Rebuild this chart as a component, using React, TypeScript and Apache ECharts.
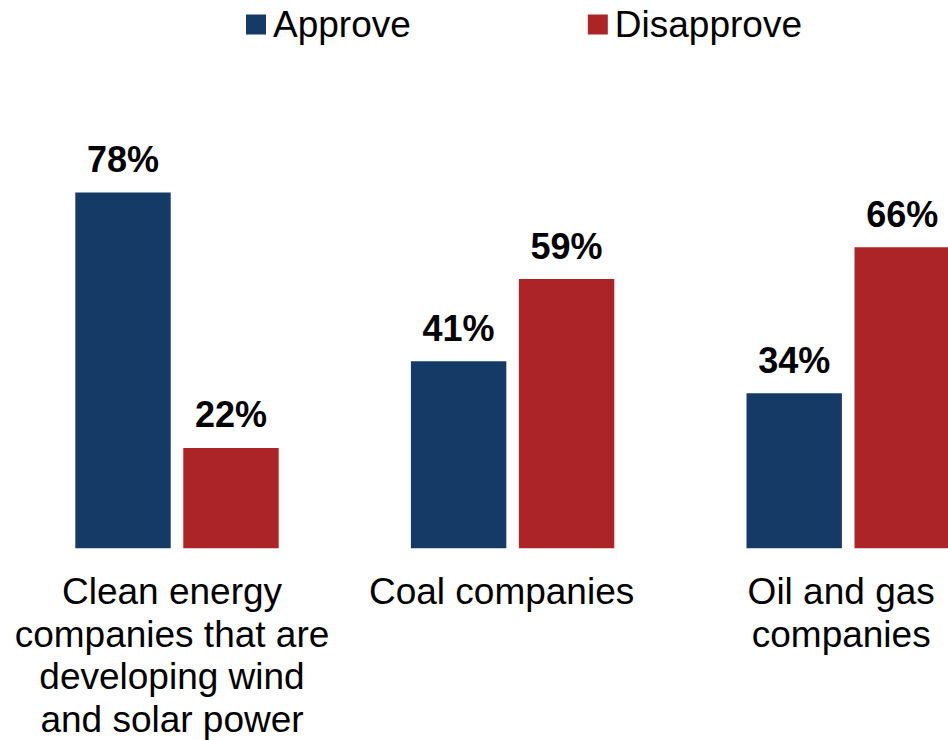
import React, { useEffect, useRef } from "react";
import * as echarts from "echarts";

const categories = [
  "Clean energy\ncompanies that are\ndeveloping wind\nand solar power",
  "Coal companies",
  "Oil and gas\ncompanies",
];
const approve = [78, 41, 34];
const disapprove = [22, 59, 66];
const seriesNames = ["Approve", "Disapprove"];

const FONT = "'Liberation Sans', Arial, sans-serif";
const NAVY = "#163A66";
const RED = "#AD2428";
const labelShift = [10, 22, 14];

export default function App() {
  const ref = useRef<HTMLDivElement>(null);
  useEffect(() => {
    if (!ref.current) return;
    const chart = echarts.init(ref.current, undefined, { renderer: "svg" });
    const barLabel = {
      show: true,
      position: "top" as const,
      distance: 15,
      formatter: "{c}%",
      color: "#000",
      fontFamily: FONT,
      fontWeight: "bold" as const,
      fontSize: 36,
    };
    chart.setOption({
      animation: false,
      backgroundColor: "#fff",
      legend: {
        data: seriesNames,
        left: 246,
        top: 6,
        padding: 0,
        itemWidth: 20,
        itemHeight: 20,
        itemGap: 177,
        icon: "rect",
        textStyle: {
          fontFamily: FONT,
          fontSize: 37,
          color: "#000",
          padding: [0, 0, 0, 2],
        },
      },
      grid: {
        left: 9.2,
        top: 92,
        width: 1006.8,
        height: 456.3,
        outerBoundsMode: "none",
        containLabel: false,
      },
      xAxis: {
        type: "category",
        data: categories.map((c, i) => ({
          value: c,
          textStyle: { padding: [0, labelShift[i], 0, 0] },
        })),
        axisLine: { show: false },
        axisTick: { show: false },
        axisLabel: {
          interval: 0,
          margin: 22,
          fontFamily: FONT,
          fontSize: 37,
          lineHeight: 42.6,
          color: "#000",
          align: "center",
        },
      },
      yAxis: {
        type: "value",
        min: 0,
        max: 100,
        show: false,
        splitLine: { show: false },
      },
      series: [
        {
          name: seriesNames[0],
          type: "bar",
          data: approve,
          barWidth: 95.4,
          barGap: "13.2%",
          itemStyle: { color: NAVY },
          label: barLabel,
        },
        {
          name: seriesNames[1],
          type: "bar",
          data: disapprove,
          barWidth: 95.4,
          barGap: "13.2%",
          itemStyle: { color: RED },
          label: barLabel,
        },
      ],
    });
    return () => chart.dispose();
  }, []);
  return (
    <div
      ref={ref}
      style={{ position: "fixed", left: 0, top: 0, width: 948, height: 740 }}
    />
  );
}
